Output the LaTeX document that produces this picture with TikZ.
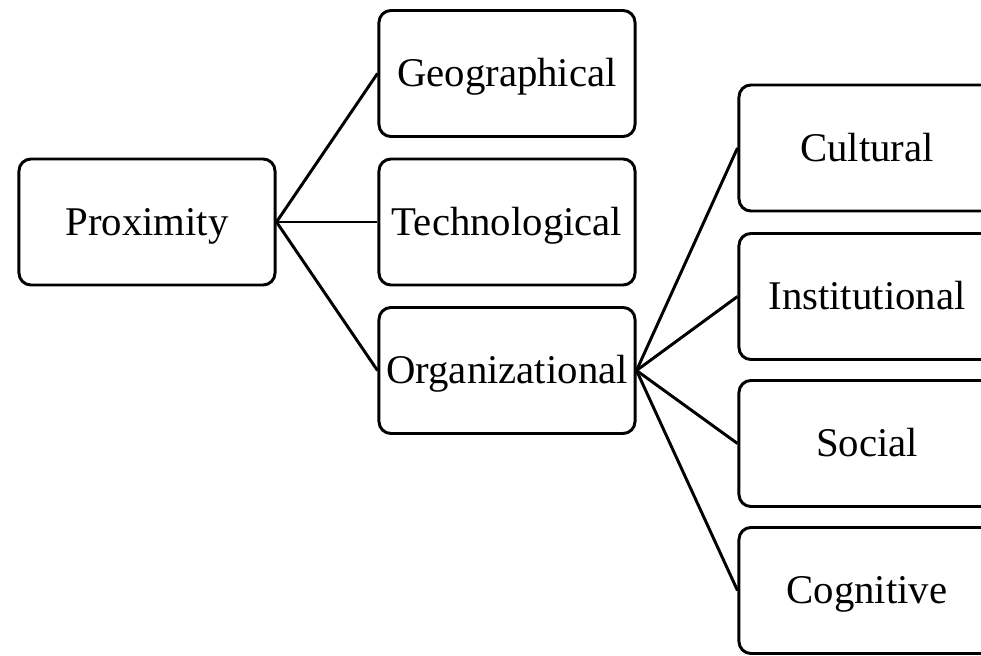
\documentclass[tikz,border=0pt]{standalone}
\usepackage{fontspec}
\setmainfont{Liberation Serif}
\tikzset{
  box/.style={
    draw, rounded corners=0.3cm, line width=2.1pt,
    minimum width=6.4cm, minimum height=3.15cm, align=center,
    font=\fontsize{29}{35}\selectfont, text height=19pt, text depth=0pt,
  },
  link/.style={line width=2.1pt},
}
\begin{document}
\begin{tikzpicture}[x=0.025cm, y=-0.025cm]
          \clip (0,0) rectangle (981,656);
          \node [box] (prox) at (147,222) {Proximity};

          \node [box] (geo) at (507,73.5) {Geographical};
          \node [box] (tech) at (507,222) {Technological};
          \node [box] (orga) at (507,370.5) {Organizational};

          \node [box] (cult) at (867,148) {Cultural};
          \node [box] (inst) at (867,296.5) {Institutional};
          \node [box] (soc) at (867,443.5) {Social};
          \node [box] (cogn) at (867,590.5) {Cognitive};

        \draw [link] (prox.east) -- (geo.west);
        \draw [link] (prox.east) -- (tech.west);
        \draw [link] (prox.east) -- (orga.west);

        \draw [link] (orga.east) -- (cult.west);
        \draw [link] (orga.east) -- (inst.west);
        \draw [link] (orga.east) -- (soc.west);
        \draw [link] (orga.east) -- (cogn.west);
    \end{tikzpicture}
\end{document}
